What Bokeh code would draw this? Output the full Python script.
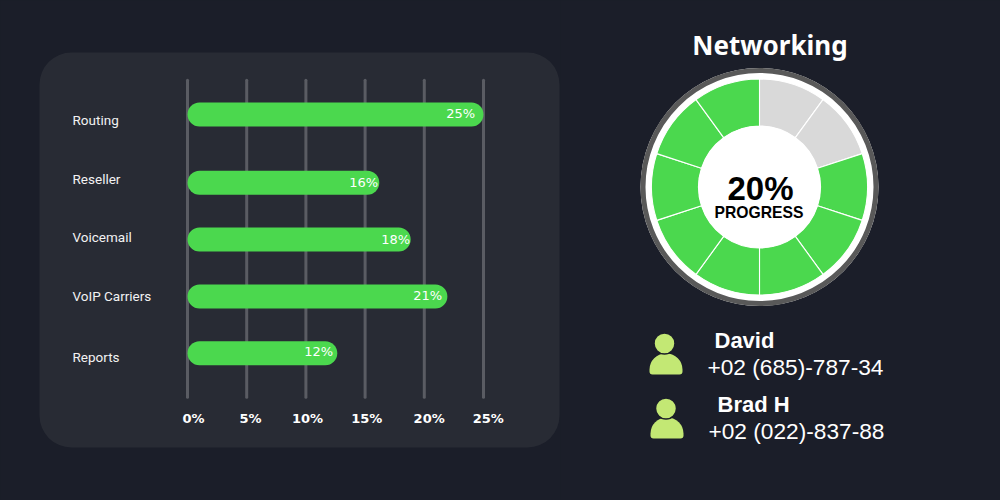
"""
Networking dashboard - progreso por categoria, anillo de avance y contactos
"""

import numpy as np

from bokeh.core.properties import value
from bokeh.embed import file_html
from bokeh.layouts import row
from bokeh.models import BoxAnnotation, ColumnDataSource, Range1d
from bokeh.plotting import figure
from bokeh.resources import INLINE

# --------------------------------------------------------------
# DATOS
# --------------------------------------------------------------

categories = ["Routing", "Reseller", "Voicemail", "VoIP Carriers", "Reports"]
label_rows = [-0.015, 0.985, 1.97, 2.97, 3.985]
bar_rows = [-0.10, 1.05, 2.01, 2.97, 3.93]
bar_ends = [25.0, 16.2, 18.85, 21.95, 12.65]
bar_labels = ["25%", "16%", "18%", "21%", "12%"]
bar_label_x = [24.3, 16.1, 18.8, 21.5, 12.3]
bar_label_rows = [-0.12, 1.05, 2.01, 2.95, 3.90]
tick_values = [0, 5, 10, 15, 20, 25]
tick_labels = ["0%", "5%", "10%", "15%", "20%", "25%"]
tick_label_x = [0.51, 5.32, 10.14, 15.14, 20.41, 25.4]

segment_share = [10, 10, 10, 10, 10, 10, 10, 10, 10, 10]
segment_done = [False, False, True, True, True, True, True, True, True, True]

contact_names = ["David", "Brad H"]
contact_phones = ["+02 (685)-787-34", "+02 (022)-837-88"]

BG = "#1b1e29"
PANEL = "#282b34"
GREEN = "#4bd84e"
ICON = "#c3e874"
GRID = "#5a5c63"

W_LEFT, W_RIGHT, H = 560, 440, 500

# --------------------------------------------------------------
# BARRAS
# --------------------------------------------------------------

PX = 11.84   # pixeles por punto porcentual
x0_px = 187

p = figure(
    width=W_LEFT, height=H,
    x_range=Range1d(-x0_px / PX, (W_LEFT - x0_px) / PX),
    y_range=Range1d((H - 120) / 59.25, -120 / 59.25),
    output_backend="svg", toolbar_location=None,
    x_axis_location=None, y_axis_location=None,
    min_border=0,
    background_fill_color=BG, border_fill_color=BG, outline_line_color=None,
)
p.grid.visible = False

p.add_layout(BoxAnnotation(
    left=39, right=559, top=52, bottom=447,
    left_units="canvas", right_units="canvas", top_units="canvas", bottom_units="canvas",
    fill_color=PANEL, fill_alpha=1, line_color=None, border_radius=32, level="underlay",
))

p.segment(
    x0=tick_values, x1=tick_values, y0=[-0.68] * 6, y1=[4.67] * 6,
    line_color=GRID, line_width=3, line_cap="round",
)

bars = ColumnDataSource(dict(y=bar_rows, right=bar_ends, left=[0] * 5))
p.hbar(y="y", left="left", right="right", height=24 / 59.25, source=bars,
       fill_color=GREEN, line_color=None, border_radius=12)

p.text(x=bar_label_x, y=bar_label_rows, text=bar_labels, text_align="right", text_baseline="middle",
       text_color="#ffffff", text_font=value("DejaVu Sans"), text_font_size="13px")

p.text(x=[-9.71] * 5, y=label_rows, text=categories, text_align="left", text_baseline="middle",
       text_color="#f2f2f2", text_font=value("Roboto"), text_font_size="13.5px")

p.text(x=tick_label_x, y=[5.03] * 6, text=tick_labels, text_align="center", text_baseline="middle",
       text_color="#ffffff", text_font=value("DejaVu Sans"), text_font_style="bold", text_font_size="13px")

# --------------------------------------------------------------
# ANILLO Y CONTACTOS  (unidades: pixeles de la pagina, y hacia arriba)
# --------------------------------------------------------------

q = figure(
    width=W_RIGHT, height=H,
    x_range=Range1d(560, 1000), y_range=Range1d(0, 500),
    output_backend="svg", toolbar_location=None,
    x_axis_location=None, y_axis_location=None,
    min_border=0,
    background_fill_color=BG, border_fill_color=BG, outline_line_color=None,
)
q.grid.visible = False

cx, cy = 759, 313.5

q.circle(x=[cx], y=[cy], radius=[119], fill_color="#ffffff", line_color=None)
q.circle(x=[cx], y=[cy], radius=[116.5], fill_color=None, line_color="#595959", line_width=5)

edges = np.cumsum([0] + segment_share) / sum(segment_share)
wedges = ColumnDataSource(dict(
    start=np.pi / 2 - 2 * np.pi * edges[:-1],
    end=np.pi / 2 - 2 * np.pi * edges[1:],
    color=[GREEN if d else "#d9d9d9" for d in segment_done],
    x=[cx] * len(segment_share),
    y=[cy] * len(segment_share),
))
q.annular_wedge(x="x", y="y", inner_radius=61, outer_radius=108, start_angle="start", end_angle="end",
                direction="clock", source=wedges, fill_color="color", line_color="#ffffff", line_width=1.1)
q.circle(x=[cx], y=[cy], radius=[61], fill_color="#ffffff", line_color=None)

q.text(x=[769.5], y=[456], text=["Networking"], text_align="center", text_baseline="middle",
       text_color="#ffffff", text_font=value("Noto Sans"), text_font_style="bold", text_font_size="26px")
q.text(x=[760], y=[312], text=["20%"], text_align="center", text_baseline="middle",
       text_color="#000000", text_font=value("Liberation Sans"), text_font_style="bold", text_font_size="33px")
q.text(x=[758.5], y=[288.5], text=["PROGRESS"], text_align="center", text_baseline="middle",
       text_color="#000000", text_font=value("Liberation Sans"), text_font_style="bold", text_font_size="15.7px")

# iconos de persona
q.quad(left=[649, 650], right=[682, 683], top=[147, 83], bottom=[126, 62],
       fill_color=ICON, line_color=None, border_radius=(16, 16, 3, 3))
q.circle(x=[664, 665.5], y=[157, 92], radius=[10.5, 10.5], fill_color=ICON, line_color=BG, line_width=1.5)

q.text(x=[714, 717], y=[160, 96], text=contact_names, text_baseline="middle",
       text_color="#ffffff", text_font=value("Liberation Sans"), text_font_style="bold", text_font_size="22px")
q.text(x=[707, 708], y=[134, 70], text=contact_phones, text_baseline="middle",
       text_color="#ffffff", text_font=value("Liberation Sans"), text_font_size="22.7px")

layout = row(p, q, spacing=0)

html = file_html(layout, INLINE).replace("<head>", f"<head><style>html,body{{background:{BG};}}</style>", 1)
open("out.html", "w").write(html)
